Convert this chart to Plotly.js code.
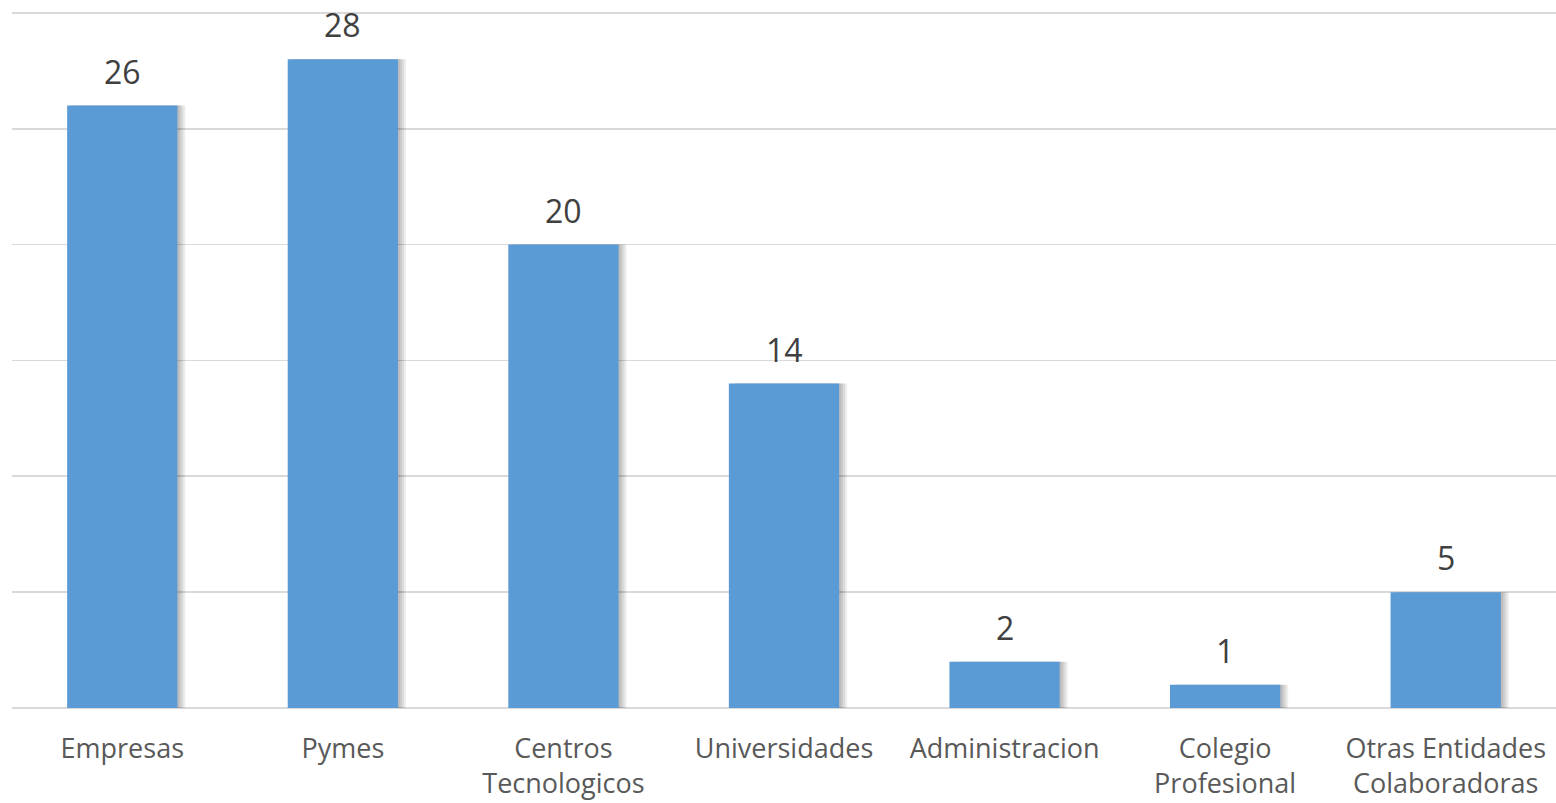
<!DOCTYPE html>
<html>
<head>
<meta charset="utf-8">
<script src="https://cdn.plot.ly/plotly-3.0.1.min.js"></script>
<style>html,body{margin:0;padding:0;background:#fff;}#chart{width:1556px;height:803px;}</style>
</head>
<body>
<div id="chart"></div>
<script>
const categories = ["Empresas", "Pymes", "Centros<br>Tecnologicos", "Universidades", "Administracion", "Colegio<br>Profesional", "Otras Entidades<br>Colaboradoras"];
const values = [26, 28, 20, 14, 2, 1, 5];

// soft drop shadow layers (same values, drawn behind the bars)
const shadowSteps = [0.036, 0.027, 0.018, 0.01];
const shadows = shadowSteps.map((d, k) => ({
  type: 'bar', x: categories, y: values.map(v => v + 0.03 * (k + 1)), base: -0.03 * (k + 1),
  width: 0.5, offset: -0.25 + d,
  marker: {color: 'rgba(0,0,0,0.07)', line: {width: 0}},
  hoverinfo: 'skip', showlegend: false
}));
const bars = {
  type: 'bar', x: categories, y: values,
  width: 0.5, offset: -0.25,
  marker: {color: '#5B9BD5', line: {width: 0}},
  showlegend: false
};

const annotations = categories.map((c, i) => ({
  x: c, y: values[i], text: String(values[i]), showarrow: false,
  yanchor: 'bottom', yshift: 11,
  font: {family: 'Open Sans, sans-serif', size: 32, color: '#404040'}
}));

const layout = {
  width: 1556, height: 803,
  margin: {l: 12, r: 0, t: 11, b: 95},
  paper_bgcolor: '#ffffff', plot_bgcolor: '#ffffff',
  barmode: 'overlay',
  showlegend: false,
  xaxis: {
    type: 'category', showgrid: false, zeroline: false, showline: false,
    ticks: '', ticklabelstandoff: 22,
    tickfont: {family: 'Open Sans, sans-serif', size: 27, color: '#595959'}
  },
  yaxis: {
    range: [0, 30.08], tick0: 0, dtick: 5, showticklabels: false,
    showgrid: true, gridcolor: '#d9d9d9', gridwidth: 1.6,
    zeroline: true, zerolinecolor: '#d9d9d9', zerolinewidth: 2,
    fixedrange: true
  },
  annotations: annotations
};

Plotly.newPlot('chart', shadows.concat([bars]), layout, {staticPlot: true, displayModeBar: false});
</script>
</body>
</html>
